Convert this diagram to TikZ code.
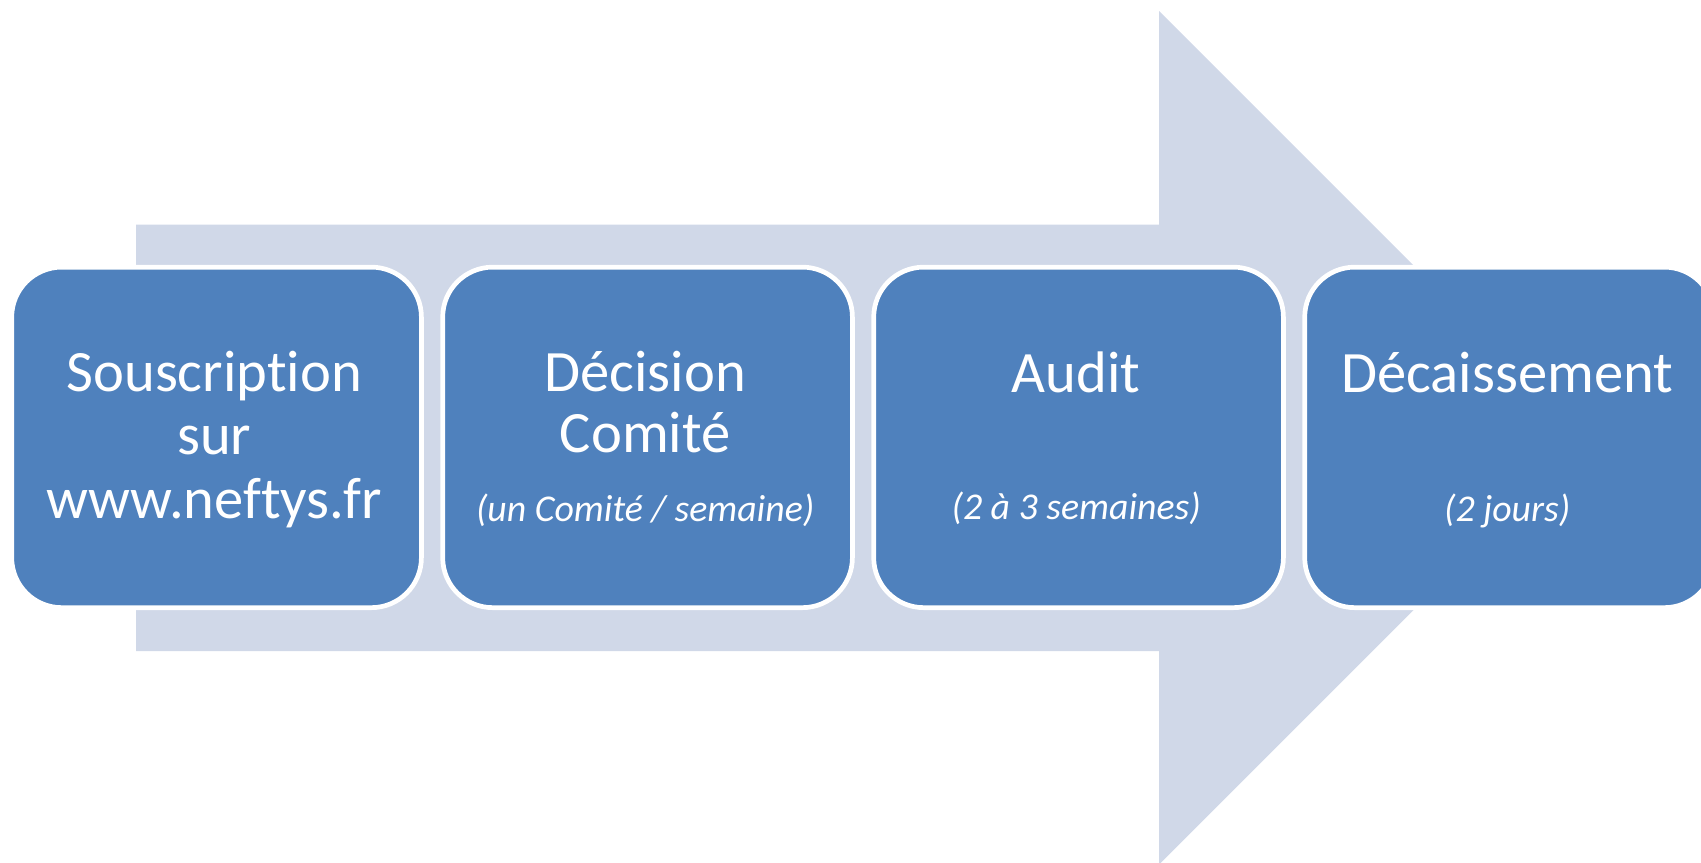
\documentclass[tikz,border=0pt]{standalone}
\usepackage{fontspec}
\setmainfont{Carlito}[RawFeature={-liga,-dlig,-clig}]
\definecolor{boxblue}{RGB}{79,129,189}
\definecolor{arrowgrey}{RGB}{208,216,232}
\begin{document}
\begin{tikzpicture}[x=0.5pt,y=-0.5pt,
  stepbox/.style={draw=white,line width=2.35pt,fill=boxblue,rounded corners=25pt,
    minimum width=204.85pt,minimum height=170.25pt,inner sep=0pt,anchor=west},
  title/.style={text=white,font=\fontsize{29.3}{32}\selectfont,anchor=base,inner sep=0pt},
  note/.style={text=white,font=\fontsize{18.9}{22}\selectfont\itshape,anchor=base,inner sep=0pt}]
\useasboundingbox (0,0) rectangle (1701,862);
% background arrow
\fill[arrowgrey] (136,224.5) -- (1159,224.5) -- (1159,11) -- (1585.75,437.75)
  -- (1159,864.5) -- (1159,651) -- (136,651) -- cycle;
% boxes
\node[stepbox] (b1) at (9.35,437.4) {};
\node[stepbox] (b2) at (440.35,437.4) {};
\node[stepbox] (b3) at (871.35,437.4) {};
\node[stepbox] (b4) at (1302.35,437.4) {};
% texts
\node[title] (t1a) at (214.2,391) {Souscription};
\node[title] (t1b) at (214.2,454) {sur};
\node[title] (t1c) at (214.2,518) {www.neftys.fr};
\node[title] (t2a) at (645.2,391) {Décision};
\node[title] (t2b) at (645.2,452) {Comité};
\node[note]  (t2c) at (645.2,521) {(un Comité / semaine)};
\node[title] (t3a) at (1076.2,392) {Audit};
\node[note]  (t3b) at (1076.2,519) {(2 à 3 semaines)};
\node[title] (t4a) at (1507.2,392) {Décaissement};
\node[note]  (t4b) at (1507.2,521) {(2 jours)};
\end{tikzpicture}
\end{document}
